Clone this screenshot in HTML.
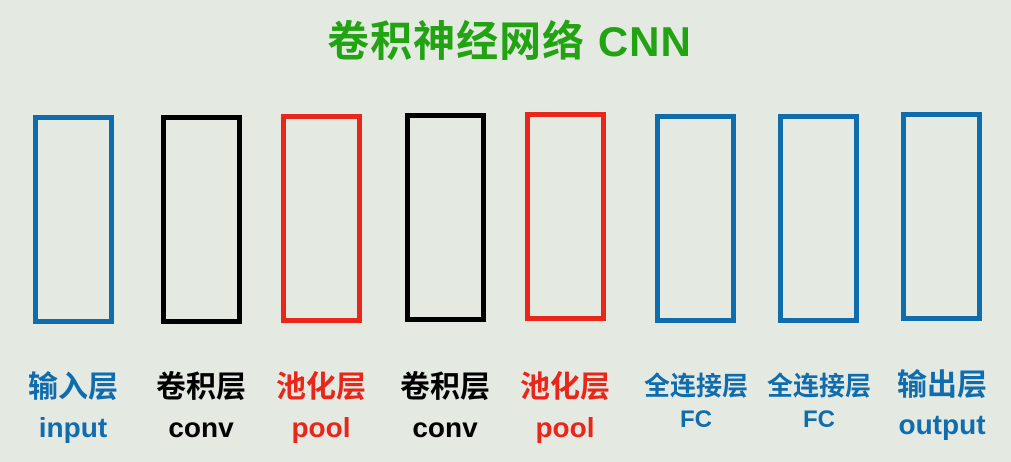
<!DOCTYPE html>
<html><head><meta charset="utf-8"><style>
body{margin:0;width:1011px;height:462px;background:#e4e9e2;position:relative;overflow:hidden;font-family:"Liberation Sans","Noto Sans CJK SC",sans-serif}
.t{position:absolute;left:0;width:1011px;top:8px;text-align:center;font-size:42px;font-weight:bold;color:#22a312;padding-left:4px;white-space:nowrap;letter-spacing:1px}
.b{position:absolute;box-sizing:border-box;border:5px solid;width:81px;height:209px}
.l{position:absolute;width:140px;text-align:center;white-space:nowrap}
.c{top:362px;font-size:30px;font-weight:bold}
.e{top:412px;font-size:28px;font-weight:bold}
.blue{color:#0f6cad;border-color:#0f6cad}.blk{color:#000;border-color:#000}.red{color:#e8261a;border-color:#e8261a}
</style></head><body>
<div class="t">卷积神经网络 CNN</div>
<div class="b blue" style="left:33px;top:115px"></div>
<div class="b blk" style="left:161px;top:115px"></div>
<div class="b red" style="left:281px;top:114px"></div>
<div class="b blk" style="left:405px;top:113px"></div>
<div class="b red" style="left:525px;top:112px"></div>
<div class="b blue" style="left:655px;top:114px"></div>
<div class="b blue" style="left:778px;top:114px"></div>
<div class="b blue" style="left:901px;top:112px"></div>

<div class="l c blue" style="left:3px">输入层</div>
<div class="l c blk" style="left:131px">卷积层</div>
<div class="l c red" style="left:251px">池化层</div>
<div class="l c blk" style="left:375px">卷积层</div>
<div class="l c red" style="left:495px">池化层</div>
<div class="l c blue" style="left:626px;font-size:26px;top:366px">全连接层</div>
<div class="l c blue" style="left:749px;font-size:26px;top:366px">全连接层</div>
<div class="l c blue" style="left:872px;top:360px">输出层</div>

<div class="l e blue" style="left:3px">input</div>
<div class="l e blk" style="left:131px">conv</div>
<div class="l e red" style="left:251px">pool</div>
<div class="l e blk" style="left:375px">conv</div>
<div class="l e red" style="left:495px">pool</div>
<div class="l e blue" style="left:626px;top:406px;font-size:24px">FC</div>
<div class="l e blue" style="left:749px;top:406px;font-size:24px">FC</div>
<div class="l e blue" style="left:872px;top:409px">output</div>
</body></html>
